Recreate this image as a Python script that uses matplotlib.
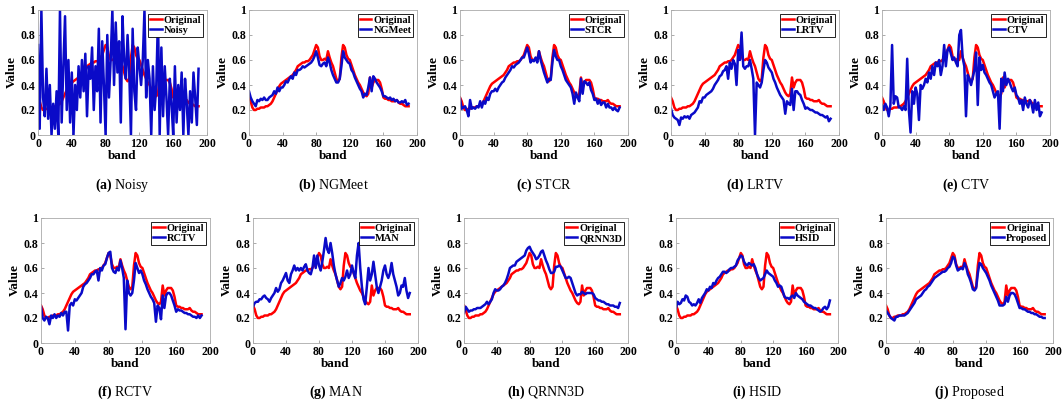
import numpy as np
import matplotlib.pyplot as plt

plt.rcParams['font.family'] = ['Liberation Serif', 'DejaVu Serif']
plt.rcParams['mathtext.fontset'] = 'custom'
plt.rcParams['mathtext.bf'] = 'Liberation Serif:bold'
plt.rcParams['mathtext.rm'] = 'Liberation Serif'

# bands sampled every 2
band = np.arange(0, 192, 2)

original = [0.30, 0.27, 0.22, 0.20, 0.20, 0.21, 0.21, 0.22, 0.22, 0.22, 0.23, 0.23, 0.24, 0.25, 0.27, 0.30,
            0.33, 0.36, 0.39, 0.41, 0.42, 0.43, 0.44, 0.45, 0.46, 0.47, 0.48, 0.50, 0.52, 0.55, 0.56, 0.57,
            0.58, 0.58, 0.59, 0.59, 0.60, 0.62, 0.64, 0.68, 0.72, 0.70, 0.63, 0.60, 0.60, 0.61, 0.60, 0.67,
            0.62, 0.58, 0.55, 0.50, 0.45, 0.43, 0.45, 0.62, 0.72, 0.70, 0.64, 0.61, 0.60, 0.56, 0.52, 0.48,
            0.45, 0.42, 0.40, 0.37, 0.34, 0.32, 0.31, 0.33, 0.46, 0.38, 0.42, 0.44, 0.44, 0.44, 0.42, 0.37,
            0.30, 0.29, 0.29, 0.28, 0.28, 0.27, 0.27, 0.27, 0.28, 0.26, 0.25, 0.25, 0.24, 0.23, 0.23, 0.23]

noisy = [0.72, 0.05, 1.00, 0.30, 0.15, 0.53, 0.13, 0.40, 0.00, 0.25, 0.05, 0.35, 0.00, 1.00, 0.10, 0.55,
         0.95, 0.20, 0.60, 0.10, 0.50, 0.00, 0.40, 0.20, 0.55, 0.30, 0.60, 0.35, 0.65, 0.15, 0.55, 0.45,
         0.70, 0.20, 0.55, 0.35, 0.85, 0.10, 0.75, 0.40, 0.00, 0.80, 0.30, 0.60, 1.00, 0.40, 0.90, 0.50,
         0.75, 0.10, 0.95, 0.60, 0.45, 0.80, 0.50, 0.00, 0.85, 0.35, 0.20, 0.70, 0.55, 0.40, 0.60, 1.00,
         0.30, 0.60, 0.45, 0.00, 0.55, 0.20, 0.40, 0.95, 0.00, 0.70, 0.15, 0.55, 0.30, 0.00, 0.45, 0.25,
         0.00, 0.55, 0.10, 0.40, 0.20, 0.50, 0.00, 0.45, 0.25, 0.00, 0.35, 0.10, 0.50, 0.30, 0.08, 0.53]

ngmeet = [0.35, 0.30, 0.27, 0.25, 0.23, 0.28, 0.27, 0.29, 0.28, 0.30, 0.28, 0.28, 0.30, 0.31, 0.32, 0.35,
          0.33, 0.38, 0.35, 0.38, 0.38, 0.40, 0.43, 0.42, 0.45, 0.47, 0.45, 0.50, 0.48, 0.52, 0.52, 0.53,
          0.55, 0.54, 0.55, 0.56, 0.57, 0.58, 0.60, 0.63, 0.67, 0.62, 0.56, 0.55, 0.57, 0.58, 0.55, 0.62,
          0.58, 0.52, 0.48, 0.45, 0.42, 0.42, 0.45, 0.55, 0.67, 0.62, 0.60, 0.58, 0.57, 0.52, 0.50, 0.46,
          0.43, 0.40, 0.37, 0.35, 0.30, 0.33, 0.32, 0.38, 0.46, 0.35, 0.47, 0.45, 0.42, 0.40, 0.38, 0.35,
          0.31, 0.31, 0.30, 0.29, 0.30, 0.28, 0.29, 0.27, 0.28, 0.26, 0.26, 0.27, 0.26, 0.28, 0.24, 0.25]

stcr = [0.29, 0.21, 0.22, 0.23, 0.20, 0.15, 0.28, 0.21, 0.22, 0.21, 0.23, 0.22, 0.27, 0.22, 0.27, 0.25,
        0.30, 0.28, 0.33, 0.35, 0.35, 0.37, 0.35, 0.38, 0.40, 0.42, 0.43, 0.46, 0.48, 0.50, 0.52, 0.55,
        0.54, 0.56, 0.57, 0.58, 0.60, 0.62, 0.62, 0.66, 0.70, 0.65, 0.58, 0.60, 0.59, 0.62, 0.58, 0.67,
        0.60, 0.55, 0.50, 0.46, 0.42, 0.45, 0.44, 0.58, 0.68, 0.63, 0.60, 0.60, 0.55, 0.52, 0.48, 0.44,
        0.42, 0.40, 0.38, 0.33, 0.25, 0.34, 0.30, 0.27, 0.45, 0.33, 0.43, 0.42, 0.40, 0.42, 0.36, 0.33,
        0.28, 0.29, 0.25, 0.28, 0.24, 0.26, 0.26, 0.22, 0.25, 0.22, 0.22, 0.20, 0.22, 0.20, 0.19, 0.22]

lrtv = [0.21, 0.16, 0.14, 0.13, 0.12, 0.08, 0.14, 0.13, 0.15, 0.14, 0.15, 0.13, 0.16, 0.17, 0.18, 0.20,
        0.22, 0.27, 0.26, 0.30, 0.30, 0.32, 0.33, 0.34, 0.35, 0.37, 0.40, 0.42, 0.44, 0.47, 0.48, 0.51,
        0.52, 0.55, 0.45, 0.58, 0.53, 0.60, 0.57, 0.40, 0.68, 0.60, 0.82, 0.55, 0.53, 0.55, 0.55, 0.60,
        0.53, 0.45, 0.00, 0.42, 0.40, 0.38, 0.42, 0.52, 0.60, 0.58, 0.54, 0.52, 0.50, 0.45, 0.42, 0.38,
        0.35, 0.32, 0.30, 0.28, 0.17, 0.27, 0.25, 0.24, 0.37, 0.20, 0.35, 0.35, 0.33, 0.32, 0.28, 0.25,
        0.21, 0.22, 0.21, 0.20, 0.20, 0.19, 0.18, 0.18, 0.17, 0.16, 0.16, 0.15, 0.14, 0.15, 0.11, 0.13]

ctv = [0.24, 0.20, 0.25, 0.22, 0.15, 0.24, 0.72, 0.25, 0.31, 0.30, 0.22, 0.22, 0.20, 0.23, 0.20, 0.61,
       0.20, 0.02, 0.35, 0.25, 0.38, 0.33, 0.12, 0.40, 0.37, 0.40, 0.45, 0.42, 0.50, 0.45, 0.55, 0.48,
       0.58, 0.55, 0.60, 0.48, 0.55, 0.72, 0.55, 0.68, 0.70, 0.65, 0.60, 0.62, 0.58, 0.55, 0.80, 0.84,
       0.62, 0.55, 0.15, 0.48, 0.45, 0.40, 0.46, 0.52, 0.66, 0.24, 0.62, 0.52, 0.56, 0.50, 0.48, 0.45,
       0.42, 0.40, 0.35, 0.30, 0.33, 0.35, 0.05, 0.45, 0.35, 0.50, 0.40, 0.45, 0.42, 0.38, 0.35, 0.38,
       0.32, 0.30, 0.25, 0.28, 0.20, 0.30, 0.25, 0.22, 0.28, 0.25, 0.18, 0.28, 0.20, 0.26, 0.15, 0.18]

rctv = [0.29, 0.20, 0.18, 0.21, 0.20, 0.15, 0.22, 0.20, 0.23, 0.20, 0.22, 0.21, 0.24, 0.22, 0.25, 0.25,
        0.10, 0.30, 0.32, 0.30, 0.35, 0.34, 0.36, 0.38, 0.40, 0.45, 0.47, 0.48, 0.50, 0.52, 0.55, 0.55,
        0.57, 0.58, 0.50, 0.60, 0.58, 0.62, 0.63, 0.68, 0.72, 0.73, 0.60, 0.57, 0.56, 0.60, 0.58, 0.66,
        0.60, 0.52, 0.11, 0.50, 0.40, 0.38, 0.40, 0.50, 0.64, 0.60, 0.56, 0.58, 0.55, 0.50, 0.47, 0.43,
        0.40, 0.37, 0.35, 0.32, 0.17, 0.30, 0.28, 0.19, 0.38, 0.28, 0.38, 0.40, 0.40, 0.38, 0.34, 0.30,
        0.25, 0.27, 0.26, 0.26, 0.25, 0.24, 0.24, 0.23, 0.23, 0.22, 0.21, 0.21, 0.20, 0.22, 0.20, 0.22]

man = [0.29, 0.32, 0.33, 0.33, 0.35, 0.35, 0.37, 0.38, 0.36, 0.35, 0.33, 0.36, 0.38, 0.40, 0.44, 0.41,
       0.43, 0.48, 0.50, 0.53, 0.56, 0.50, 0.48, 0.55, 0.58, 0.62, 0.58, 0.60, 0.58, 0.60, 0.58, 0.61,
       0.63, 0.58, 0.56, 0.55, 0.60, 0.70, 0.60, 0.70, 0.62, 0.58, 0.65, 0.74, 0.84, 0.75, 0.72, 0.80,
       0.72, 0.62, 0.55, 0.50, 0.45, 0.48, 0.52, 0.50, 0.53, 0.58, 0.52, 0.55, 0.62, 0.56, 0.52, 0.70,
       0.80, 0.60, 0.45, 0.35, 0.31, 0.45, 0.60, 0.50, 0.55, 0.65, 0.55, 0.45, 0.40, 0.45, 0.50, 0.58,
       0.62, 0.55, 0.52, 0.56, 0.64, 0.55, 0.50, 0.45, 0.38, 0.40, 0.46, 0.45, 0.52, 0.42, 0.36, 0.40]

qrnn3d = [0.24, 0.29, 0.27, 0.25, 0.26, 0.26, 0.27, 0.27, 0.28, 0.28, 0.28, 0.29, 0.30, 0.31, 0.33, 0.31,
          0.33, 0.35, 0.40, 0.43, 0.42, 0.42, 0.43, 0.45, 0.46, 0.48, 0.51, 0.55, 0.60, 0.61, 0.62, 0.62,
          0.65, 0.66, 0.67, 0.68, 0.69, 0.70, 0.74, 0.76, 0.77, 0.74, 0.72, 0.70, 0.67, 0.68, 0.70, 0.73,
          0.74, 0.70, 0.66, 0.63, 0.59, 0.56, 0.56, 0.57, 0.61, 0.61, 0.62, 0.61, 0.58, 0.55, 0.52, 0.52,
          0.53, 0.52, 0.48, 0.44, 0.40, 0.38, 0.39, 0.39, 0.41, 0.40, 0.39, 0.40, 0.40, 0.40, 0.40, 0.39,
          0.36, 0.35, 0.34, 0.34, 0.33, 0.33, 0.32, 0.31, 0.31, 0.30, 0.30, 0.30, 0.29, 0.29, 0.28, 0.32]

hsid = [0.28, 0.33, 0.31, 0.32, 0.35, 0.34, 0.38, 0.37, 0.33, 0.32, 0.30, 0.31, 0.30, 0.32, 0.35, 0.32,
        0.36, 0.38, 0.40, 0.43, 0.42, 0.45, 0.44, 0.48, 0.47, 0.50, 0.52, 0.53, 0.55, 0.57, 0.57, 0.56,
        0.57, 0.59, 0.60, 0.60, 0.61, 0.62, 0.66, 0.68, 0.70, 0.69, 0.65, 0.63, 0.62, 0.64, 0.63, 0.62,
        0.63, 0.60, 0.55, 0.52, 0.50, 0.51, 0.52, 0.55, 0.58, 0.56, 0.55, 0.54, 0.53, 0.50, 0.48, 0.45,
        0.46, 0.45, 0.41, 0.37, 0.36, 0.36, 0.35, 0.37, 0.38, 0.36, 0.40, 0.38, 0.37, 0.36, 0.35, 0.33,
        0.32, 0.31, 0.30, 0.30, 0.29, 0.28, 0.28, 0.27, 0.26, 0.25, 0.26, 0.28, 0.29, 0.27, 0.29, 0.34]

proposed = [0.26, 0.24, 0.22, 0.20, 0.19, 0.18, 0.21, 0.21, 0.22, 0.22, 0.22, 0.22, 0.23, 0.24, 0.26, 0.28,
            0.30, 0.32, 0.35, 0.36, 0.37, 0.38, 0.40, 0.42, 0.43, 0.45, 0.46, 0.48, 0.50, 0.52, 0.53, 0.54,
            0.55, 0.56, 0.57, 0.57, 0.58, 0.60, 0.61, 0.64, 0.69, 0.68, 0.62, 0.58, 0.59, 0.60, 0.59, 0.64,
            0.61, 0.55, 0.52, 0.48, 0.43, 0.42, 0.44, 0.56, 0.64, 0.63, 0.60, 0.58, 0.56, 0.53, 0.50, 0.46,
            0.43, 0.40, 0.37, 0.34, 0.30, 0.30, 0.30, 0.31, 0.37, 0.33, 0.38, 0.40, 0.40, 0.39, 0.36, 0.32,
            0.28, 0.28, 0.27, 0.27, 0.26, 0.25, 0.25, 0.24, 0.24, 0.23, 0.23, 0.22, 0.21, 0.21, 0.20, 0.20]

methods = ['Noisy', 'NGMeet', 'STCR', 'LRTV', 'CTV', 'RCTV', 'MAN', 'QRNN3D', 'HSID', 'Proposed']
letters = ['a', 'b', 'c', 'd', 'e', 'f', 'g', 'h', 'i', 'j']
results = [noisy, ngmeet, stcr, lrtv, ctv, rctv, man, qrnn3d, hsid, proposed]

W, H = 1062, 408
# axes boxes in pixels (left, right, top, bottom)
boxes = [(38, 207, 10, 135), (249, 417, 10, 135), (460, 628, 10, 135), (671, 839, 10, 135), (882, 1050, 10, 135),
         (41, 210, 218, 343), (253, 418, 218, 343), (464, 628, 218, 343), (676, 838, 218, 343), (886, 1053, 218, 343)]
cap_y = [185, 185, 185, 185, 185, 392, 392, 392, 392, 392]

fig = plt.figure(figsize=(W / 100, H / 100), dpi=100)

for i in range(10):
    l, r, t, b = boxes[i]
    ax = fig.add_axes([l / W, 1 - b / H, (r - l) / W, (b - t) / H])
    ax.plot(band, original, color='red', lw=1.8, label='Original')
    ax.plot(band, results[i], color='#0a0ac8', lw=1.8, label=methods[i])
    ax.set_xlim(0, 200)
    ax.set_ylim(0, 1)
    ax.set_xticks([0, 40, 80, 120, 160, 200])
    ax.set_yticks([0, 0.2, 0.4, 0.6, 0.8, 1])
    ax.set_yticklabels(['0', '0.2', '0.4', '0.6', '0.8', '1'])
    ax.tick_params(direction='in', length=2, width=0.5, labelsize=8.5, pad=2, color='#888888')
    for lab in ax.get_xticklabels() + ax.get_yticklabels():
        lab.set_fontweight('bold')
    for s in ax.spines.values():
        s.set_color('#aaaaaa')
        s.set_linewidth(0.6)
    ax.set_xlabel('band', fontsize=9.5, fontweight='bold', labelpad=0)
    ax.set_ylabel('Value', fontsize=9.5, fontweight='bold', labelpad=2)
    leg = ax.legend(loc='upper right', prop={'weight': 'bold', 'size': 7.5},
                    handlelength=1.1, handletextpad=0.2, borderpad=0.2, labelspacing=0.05,
                    fancybox=False, framealpha=1, borderaxespad=0.35)
    leg.get_frame().set_edgecolor('black')
    leg.get_frame().set_linewidth(0.6)
    fig.text((l + r) / 2 / W, 1 - cap_y[i] / H, r'$\bf{(%s)}$ %s' % (letters[i], methods[i]),
             ha='center', va='center', fontsize=10)

fig.savefig('out.png', dpi=100)
